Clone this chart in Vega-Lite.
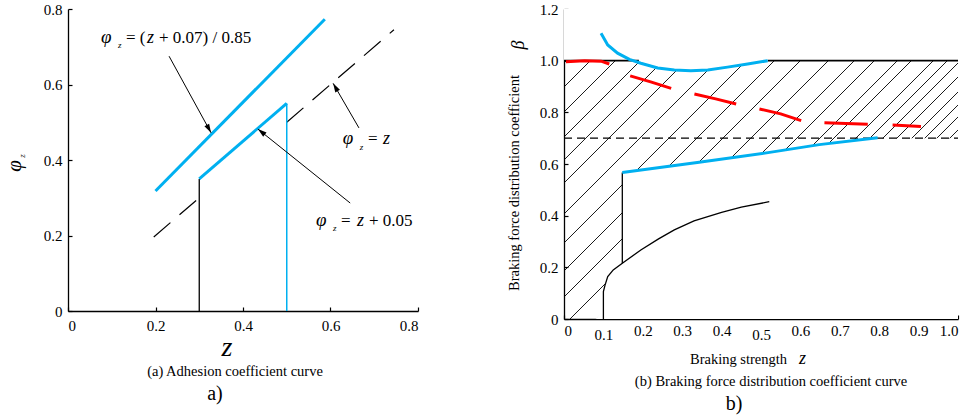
{
  "$schema": "https://vega.github.io/schema/vega-lite/v6.json",
  "background": "white",
  "padding": {"left": 4, "top": 2, "right": 2, "bottom": 2},
  "bounds": "flush",
  "spacing": 146,
  "config": {
    "view": {"stroke": null},
    "font": "Liberation Serif",
    "text": {"font": "Liberation Serif"},
    "style": {"guide-label": {"font": "Liberation Serif", "fontSize": 15, "fill": "black"}},
    "axis": {"grid": false, "domainColor": "black", "domainWidth": 1.3, "tickColor": "black", "tickWidth": 1.2, "tickSize": -4, "labelColor": "black", "labelFont": "Liberation Serif", "labelFontSize": 15, "labelOverlap": false, "zindex": 1}
  },
  "datasets": {
    "a_dash": [{"z": 0.196, "phi": 0.196, "seg": 1}, {"z": 0.295, "phi": 0.295, "seg": 1}, {"z": 0.5, "phi": 0.5, "seg": 2}, {"z": 0.745, "phi": 0.745, "seg": 2}],
    "a_blue": [{"z": 0.2, "phi": 0.318, "seg": "A"}, {"z": 0.587, "phi": 0.773, "seg": "A"}, {"z": 0.3, "phi": 0.35, "seg": "B"}, {"z": 0.5, "phi": 0.55, "seg": "B"}],
    "a_arrows": [{"id": "A", "z": 0.231, "phi": 0.675, "z2": 0.327, "phi2": 0.472}, {"id": "B", "z": 0.665, "phi": 0.485, "z2": 0.606, "phi2": 0.603}, {"id": "C", "z": 0.645, "phi": 0.286, "z2": 0.434, "phi2": 0.482}],
    "a_text": [
      {"z": 0.0754, "phi": 0.7099, "t": "φ", "kind": "sym"},
      {"z": 0.1143, "phi": 0.6967, "t": "z", "kind": "sub"},
      {"z": 0.1326, "phi": 0.7099, "t": "= (", "kind": "plain"},
      {"z": 0.1806, "phi": 0.7099, "t": "z", "kind": "var"},
      {"z": 0.208, "phi": 0.7099, "t": "+ 0.07) / 0.85", "kind": "plain"},
      {"z": 0.628, "phi": 0.4416, "t": "φ", "kind": "sym"},
      {"z": 0.667, "phi": 0.4278, "t": "z", "kind": "sub"},
      {"z": 0.6857, "phi": 0.4416, "t": "=", "kind": "plain"},
      {"z": 0.72, "phi": 0.4416, "t": "z", "kind": "var"},
      {"z": 0.5669, "phi": 0.2252, "t": "φ", "kind": "sym"},
      {"z": 0.6057, "phi": 0.2119, "t": "z", "kind": "sub"},
      {"z": 0.624, "phi": 0.2252, "t": "=", "kind": "plain"},
      {"z": 0.6606, "phi": 0.2252, "t": "z", "kind": "var"},
      {"z": 0.688, "phi": 0.2252, "t": "+ 0.05", "kind": "plain"},
      {"z": 0.3634, "phi": -0.1192, "t": "z", "kind": "xt"},
      {"z": 0.3817, "phi": -0.1722, "t": "(a) Adhesion coefficient curve", "kind": "cap"},
      {"z": 0.336, "phi": -0.2358, "t": "a)", "kind": "lab"},
      {"z": -0.1211, "phi": 0.3841, "t": "φ", "kind": "yt"},
      {"z": -0.1051, "phi": 0.4106, "t": "z", "kind": "ysub"}
    ],
    "a_vert": [{"z": 0.3, "lo": 0, "hi": 0.35, "line": "black"}, {"z": 0.5, "lo": 0, "hi": 0.55, "line": "blue"}],
    "b_hatch": [
      {"z": -0.5888, "z1": 0.198, "b": 0, "b1": 1.2}, {"z": -0.5254, "z1": 0.2614, "b": 0, "b1": 1.2}, {"z": -0.4619, "z1": 0.3249, "b": 0, "b1": 1.2}, {"z": -0.4036, "z1": 0.3832, "b": 0, "b1": 1.2},
      {"z": -0.3452, "z1": 0.4416, "b": 0, "b1": 1.2}, {"z": -0.2665, "z1": 0.5203, "b": 0, "b1": 1.2}, {"z": -0.1929, "z1": 0.5939, "b": 0, "b1": 1.2}, {"z": -0.1218, "z1": 0.665, "b": 0, "b1": 1.2},
      {"z": -0.0558, "z1": 0.731, "b": 0, "b1": 1.2}, {"z": 0.0152, "z1": 0.802, "b": 0, "b1": 1.2}, {"z": 0.0812, "z1": 0.868, "b": 0, "b1": 1.2}, {"z": 0.132, "z1": 0.9188, "b": 0, "b1": 1.2},
      {"z": 0.1904, "z1": 0.9772, "b": 0, "b1": 1.2}, {"z": 0.2259, "z1": 1.0127, "b": 0, "b1": 1.2}, {"z": 0.2817, "z1": 1.0685, "b": 0, "b1": 1.2}, {"z": 0.3173, "z1": 1.1041, "b": 0, "b1": 1.2},
      {"z": 0.3503, "z1": 1.1371, "b": 0, "b1": 1.2}, {"z": 0.3858, "z1": 1.1726, "b": 0, "b1": 1.2}, {"z": 0.4239, "z1": 1.2107, "b": 0, "b1": 1.2}, {"z": 0.4569, "z1": 1.2437, "b": 0, "b1": 1.2},
      {"z": 0.4873, "z1": 1.2741, "b": 0, "b1": 1.2}, {"z": 0.5203, "z1": 1.3071, "b": 0, "b1": 1.2}
    ],
    "b_mask_hi": [{"z": 0, "b": 1.0, "top": 1.2}, {"z": 0.185, "b": 1.0, "top": 1.2}, {"z": 0.195, "b": 0.99, "top": 1.2}, {"z": 0.238, "b": 0.972, "top": 1.2}, {"z": 0.28, "b": 0.964, "top": 1.2}, {"z": 0.322, "b": 0.961, "top": 1.2}, {"z": 0.365, "b": 0.964, "top": 1.2}, {"z": 0.415, "b": 0.975, "top": 1.2}, {"z": 0.466, "b": 0.987, "top": 1.2}, {"z": 0.517, "b": 1.0, "top": 1.2}, {"z": 1.0, "b": 1.0, "top": 1.2}],
    "b_mask_lo": [{"z": 0.08, "b": 0, "bot": 0}, {"z": 0.1, "b": 0.035, "bot": 0}, {"z": 0.1, "b": 0.106, "bot": 0}, {"z": 0.104, "b": 0.13, "bot": 0}, {"z": 0.111, "b": 0.164, "bot": 0}, {"z": 0.125, "b": 0.19, "bot": 0}, {"z": 0.148, "b": 0.216, "bot": 0}, {"z": 0.148, "b": 0.567, "bot": 0}, {"z": 0.343, "b": 0.607, "bot": 0}, {"z": 0.518, "b": 0.644, "bot": 0}, {"z": 0.648, "b": 0.675, "bot": 0}, {"z": 0.796, "b": 0.702, "bot": 0}, {"z": 0.8, "b": 0.7, "bot": 0}, {"z": 1.0, "b": 0.7, "bot": 0}],
    "b_top": [{"z": 0, "b": 1.0, "seg": 1}, {"z": 0.19, "b": 1.0, "seg": 1}, {"z": 0.517, "b": 1.0, "seg": 2}, {"z": 1.0, "b": 1.0, "seg": 2}],
    "b_black": [
      {"z": 0.1, "b": 0, "seg": "c"}, {"z": 0.1, "b": 0.106, "seg": "c"}, {"z": 0.104, "b": 0.13, "seg": "c"}, {"z": 0.111, "b": 0.164, "seg": "c"}, {"z": 0.125, "b": 0.19, "seg": "c"}, {"z": 0.148, "b": 0.216, "seg": "c"}, {"z": 0.195, "b": 0.267, "seg": "c"}, {"z": 0.24, "b": 0.31, "seg": "c"}, {"z": 0.28, "b": 0.345, "seg": "c"}, {"z": 0.33, "b": 0.38, "seg": "c"}, {"z": 0.4, "b": 0.413, "seg": "c"}, {"z": 0.45, "b": 0.433, "seg": "c"}, {"z": 0.521, "b": 0.454, "seg": "c"},
      {"z": 0.148, "b": 0.216, "seg": "v"}, {"z": 0.148, "b": 0.567, "seg": "v"}
    ],
    "b_blue": [
      {"z": 0.094, "b": 1.106, "seg": "u"}, {"z": 0.111, "b": 1.061, "seg": "u"}, {"z": 0.136, "b": 1.029, "seg": "u"}, {"z": 0.166, "b": 1.005, "seg": "u"}, {"z": 0.195, "b": 0.99, "seg": "u"}, {"z": 0.238, "b": 0.972, "seg": "u"}, {"z": 0.28, "b": 0.964, "seg": "u"}, {"z": 0.322, "b": 0.961, "seg": "u"}, {"z": 0.365, "b": 0.964, "seg": "u"}, {"z": 0.415, "b": 0.975, "seg": "u"}, {"z": 0.466, "b": 0.987, "seg": "u"}, {"z": 0.517, "b": 1.0, "seg": "u"},
      {"z": 0.148, "b": 0.567, "seg": "l"}, {"z": 0.343, "b": 0.607, "seg": "l"}, {"z": 0.518, "b": 0.644, "seg": "l"}, {"z": 0.648, "b": 0.675, "seg": "l"}, {"z": 0.796, "b": 0.702, "seg": "l"}
    ],
    "b_red": [
      {"z": 0.005, "b": 0.996, "seg": 1}, {"z": 0.052, "b": 1.0, "seg": 1}, {"z": 0.094, "b": 0.998, "seg": 1}, {"z": 0.115, "b": 0.987, "seg": 1},
      {"z": 0.168, "b": 0.941, "seg": 2}, {"z": 0.22, "b": 0.918, "seg": 2}, {"z": 0.272, "b": 0.893, "seg": 2},
      {"z": 0.331, "b": 0.871, "seg": 3}, {"z": 0.385, "b": 0.852, "seg": 3}, {"z": 0.437, "b": 0.832, "seg": 3},
      {"z": 0.496, "b": 0.813, "seg": 4}, {"z": 0.55, "b": 0.794, "seg": 4}, {"z": 0.602, "b": 0.768, "seg": 4},
      {"z": 0.661, "b": 0.76, "seg": 5}, {"z": 0.716, "b": 0.757, "seg": 5}, {"z": 0.771, "b": 0.754, "seg": 5},
      {"z": 0.834, "b": 0.751, "seg": 6}, {"z": 0.87, "b": 0.748, "seg": 6}, {"z": 0.906, "b": 0.745, "seg": 6}
    ],
    "b_h": [{"z": 0, "b": 0.7}, {"z": 1.0, "b": 0.7}],
    "b_text": [
      {"z": -0.1244, "b": 0.5265, "t": "Braking force distribution coefficient", "kind": "yt"},
      {"z": -0.1142, "b": 1.061, "t": "β", "kind": "ysym"},
      {"z": 0.3198, "b": -0.1742, "t": "Braking strength", "kind": "xt"},
      {"z": 0.5964, "b": -0.1742, "t": "z", "kind": "xvar"},
      {"z": 0.5254, "b": -0.2594, "t": "(b) Braking force distribution coefficient curve", "kind": "cap"},
      {"z": 0.4315, "b": -0.3523, "t": "b)", "kind": "lab"}
    ]
  },
  "hconcat": [
    {
      "width": 350,
      "height": 302,
      "layer": [
        {
          "data": {"name": "a_dash"},
          "mark": {"type": "line", "color": "black", "strokeWidth": 1.2, "strokeDash": [22, 12]},
          "encoding": {
            "x": {"field": "z", "type": "quantitative", "scale": {"domain": [0, 0.8]},
              "axis": {"title": null, "values": [0, 0.2, 0.4, 0.6, 0.8], "labelPadding": 11, "labelFont": "Liberation Serif", "labelExpr": "datum.value == 0 ? '0' : format(datum.value, '.1f')"}},
            "y": {"field": "phi", "type": "quantitative", "scale": {"domain": [0, 0.8]},
              "axis": {"title": null, "values": [0, 0.2, 0.4, 0.6, 0.8], "labelPadding": 10, "labelFont": "Liberation Serif", "labelExpr": "datum.value == 0 ? '0' : format(datum.value, '.1f')"}},
            "detail": {"field": "seg", "type": "nominal"}
          }
        },
        {
          "data": {"name": "a_vert"},
          "transform": [{"filter": "datum.line == 'black'"}],
          "mark": {"type": "rule", "color": "black", "strokeWidth": 1.3},
          "encoding": {"x": {"field": "z", "type": "quantitative"}, "y": {"field": "lo", "type": "quantitative"}, "y2": {"field": "hi"}}
        },
        {
          "data": {"name": "a_vert"},
          "transform": [{"filter": "datum.line == 'blue'"}],
          "mark": {"type": "rule", "color": "#00B0F0", "strokeWidth": 1.5},
          "encoding": {"x": {"field": "z", "type": "quantitative"}, "y": {"field": "lo", "type": "quantitative"}, "y2": {"field": "hi"}}
        },
        {
          "data": {"name": "a_blue"},
          "mark": {"type": "line", "color": "#00B0F0", "strokeWidth": 3},
          "encoding": {"x": {"field": "z", "type": "quantitative"}, "y": {"field": "phi", "type": "quantitative"}, "detail": {"field": "seg", "type": "nominal"}}
        },
        {
          "data": {"name": "a_arrows"},
          "mark": {"type": "rule", "color": "black", "strokeWidth": 1},
          "encoding": {"x": {"field": "z", "type": "quantitative"}, "y": {"field": "phi", "type": "quantitative"}, "x2": {"field": "z2"}, "y2": {"field": "phi2"}}
        },
        {
          "data": {"name": "a_arrows"},
          "transform": [{"filter": "datum.id == 'A'"}],
          "mark": {"type": "point", "shape": "M0,0L0.6,2L-0.6,2Z", "filled": true, "color": "black", "opacity": 1, "size": 80, "angle": 151.3},
          "encoding": {"x": {"field": "z2", "type": "quantitative"}, "y": {"field": "phi2", "type": "quantitative"}}
        },
        {
          "data": {"name": "a_arrows"},
          "transform": [{"filter": "datum.id == 'B'"}],
          "mark": {"type": "point", "shape": "M0,0L0.6,2L-0.6,2Z", "filled": true, "color": "black", "opacity": 1, "size": 80, "angle": 329.9},
          "encoding": {"x": {"field": "z2", "type": "quantitative"}, "y": {"field": "phi2", "type": "quantitative"}}
        },
        {
          "data": {"name": "a_arrows"},
          "transform": [{"filter": "datum.id == 'C'"}],
          "mark": {"type": "point", "shape": "M0,0L0.6,2L-0.6,2Z", "filled": true, "color": "black", "opacity": 1, "size": 80, "angle": 308.7},
          "encoding": {"x": {"field": "z2", "type": "quantitative"}, "y": {"field": "phi2", "type": "quantitative"}}
        },
        {
          "data": {"name": "a_text"},
          "transform": [{"filter": "datum.kind == 'sym'"}],
          "mark": {"type": "text", "font": "Liberation Serif", "align": "left", "baseline": "alphabetic", "fontSize": 19, "fontStyle": "italic", "color": "black"},
          "encoding": {"x": {"field": "z", "type": "quantitative"}, "y": {"field": "phi", "type": "quantitative"}, "text": {"field": "t", "type": "nominal"}}
        },
        {
          "data": {"name": "a_text"},
          "transform": [{"filter": "datum.kind == 'sub'"}],
          "mark": {"type": "text", "font": "Liberation Serif", "align": "left", "baseline": "alphabetic", "fontSize": 9, "fontStyle": "italic", "color": "black"},
          "encoding": {"x": {"field": "z", "type": "quantitative"}, "y": {"field": "phi", "type": "quantitative"}, "text": {"field": "t", "type": "nominal"}}
        },
        {
          "data": {"name": "a_text"},
          "transform": [{"filter": "datum.kind == 'var'"}],
          "mark": {"type": "text", "font": "Liberation Serif", "align": "left", "baseline": "alphabetic", "fontSize": 18, "fontStyle": "italic", "color": "black"},
          "encoding": {"x": {"field": "z", "type": "quantitative"}, "y": {"field": "phi", "type": "quantitative"}, "text": {"field": "t", "type": "nominal"}}
        },
        {
          "data": {"name": "a_text"},
          "transform": [{"filter": "datum.kind == 'plain'"}],
          "mark": {"type": "text", "font": "Liberation Serif", "align": "left", "baseline": "alphabetic", "fontSize": 17, "color": "black"},
          "encoding": {"x": {"field": "z", "type": "quantitative"}, "y": {"field": "phi", "type": "quantitative"}, "text": {"field": "t", "type": "nominal"}}
        },
        {
          "data": {"name": "a_text"},
          "transform": [{"filter": "datum.kind == 'xt'"}],
          "mark": {"type": "text", "font": "Liberation Serif", "align": "center", "baseline": "alphabetic", "fontSize": 28, "fontStyle": "italic", "color": "black"},
          "encoding": {"x": {"field": "z", "type": "quantitative"}, "y": {"field": "phi", "type": "quantitative"}, "text": {"field": "t", "type": "nominal"}}
        },
        {
          "data": {"name": "a_text"},
          "transform": [{"filter": "datum.kind == 'cap'"}],
          "mark": {"type": "text", "font": "Liberation Serif", "align": "center", "baseline": "alphabetic", "fontSize": 14.5, "color": "black"},
          "encoding": {"x": {"field": "z", "type": "quantitative"}, "y": {"field": "phi", "type": "quantitative"}, "text": {"field": "t", "type": "nominal"}}
        },
        {
          "data": {"name": "a_text"},
          "transform": [{"filter": "datum.kind == 'lab'"}],
          "mark": {"type": "text", "font": "Liberation Serif", "align": "center", "baseline": "alphabetic", "fontSize": 20, "color": "black"},
          "encoding": {"x": {"field": "z", "type": "quantitative"}, "y": {"field": "phi", "type": "quantitative"}, "text": {"field": "t", "type": "nominal"}}
        },
        {
          "data": {"name": "a_text"},
          "transform": [{"filter": "datum.kind == 'yt'"}],
          "mark": {"type": "text", "font": "Liberation Serif", "align": "center", "baseline": "middle", "fontSize": 21, "fontStyle": "italic", "angle": 270, "color": "black"},
          "encoding": {"x": {"field": "z", "type": "quantitative"}, "y": {"field": "phi", "type": "quantitative"}, "text": {"field": "t", "type": "nominal"}}
        },
        {
          "data": {"name": "a_text"},
          "transform": [{"filter": "datum.kind == 'ysub'"}],
          "mark": {"type": "text", "font": "Liberation Serif", "align": "center", "baseline": "middle", "fontSize": 9, "fontStyle": "italic", "angle": 270, "color": "black"},
          "encoding": {"x": {"field": "z", "type": "quantitative"}, "y": {"field": "phi", "type": "quantitative"}, "text": {"field": "t", "type": "nominal"}}
        }
      ]
    },
    {
      "width": 394,
      "height": 310,
      "encoding": {
        "x": {"field": "z", "type": "quantitative", "scale": {"domain": [0, 1]},
          "axis": {"title": null, "values": [0, 0.1, 0.2, 0.3, 0.4, 0.5, 0.6, 0.7, 0.8, 0.9, 1.0], "labelFont": "Liberation Serif", "labelOverlap": false,
            "labelExpr": "datum.value == 0 ? '0' : format(datum.value, '.1f')",
            "labelPadding": {"condition": {"test": "datum.value == 0.1 || datum.value == 0.5", "value": 12}, "value": 8}}},
        "y": {"field": "b", "type": "quantitative", "scale": {"domain": [0, 1.2]},
          "axis": {"title": null, "values": [0, 0.2, 0.4, 0.6, 0.8, 1.0, 1.2], "labelFont": "Liberation Serif", "labelOverlap": false, "labelExpr": "datum.value == 0 ? '0' : format(datum.value, '.1f')", "labelPadding": 10}}
      },
      "layer": [
        {
          "data": {"name": "b_hatch"},
          "mark": {"type": "rule", "color": "black", "strokeWidth": 0.9, "clip": true},
          "encoding": {"x2": {"field": "z1"}, "y2": {"field": "b1"}}
        },
        {
          "data": {"name": "b_mask_hi"},
          "mark": {"type": "area", "color": "white", "opacity": 1, "clip": true},
          "encoding": {"y2": {"field": "top"}}
        },
        {
          "data": {"name": "b_mask_lo"},
          "mark": {"type": "area", "color": "white", "opacity": 1, "clip": true},
          "encoding": {"y2": {"field": "bot"}}
        },
        {
          "data": {"name": "b_h"},
          "mark": {"type": "line", "color": "black", "strokeWidth": 1.3, "strokeDash": [8, 5]},
          "encoding": {}
        },
        {
          "data": {"name": "b_top"},
          "mark": {"type": "line", "color": "black", "strokeWidth": 1.8},
          "encoding": {"detail": {"field": "seg", "type": "nominal"}}
        },
        {
          "data": {"name": "b_black"},
          "mark": {"type": "line", "color": "black", "strokeWidth": 1.3},
          "encoding": {"detail": {"field": "seg", "type": "nominal"}}
        },
        {
          "data": {"name": "b_blue"},
          "mark": {"type": "line", "color": "#00B0F0", "strokeWidth": 3},
          "encoding": {"detail": {"field": "seg", "type": "nominal"}}
        },
        {
          "data": {"name": "b_red"},
          "mark": {"type": "line", "color": "#FF0000", "strokeWidth": 3},
          "encoding": {"detail": {"field": "seg", "type": "nominal"}}
        },
        {
          "data": {"name": "b_text"},
          "transform": [{"filter": "datum.kind == 'yt'"}],
          "mark": {"type": "text", "font": "Liberation Serif", "align": "center", "baseline": "middle", "fontSize": 14.5, "angle": 270, "color": "black"},
          "encoding": {"text": {"field": "t", "type": "nominal"}}
        },
        {
          "data": {"name": "b_text"},
          "transform": [{"filter": "datum.kind == 'ysym'"}],
          "mark": {"type": "text", "font": "Liberation Serif", "align": "center", "baseline": "middle", "fontSize": 18, "fontStyle": "italic", "angle": 270, "color": "black"},
          "encoding": {"text": {"field": "t", "type": "nominal"}}
        },
        {
          "data": {"name": "b_text"},
          "transform": [{"filter": "datum.kind == 'xt'"}],
          "mark": {"type": "text", "font": "Liberation Serif", "align": "left", "baseline": "alphabetic", "fontSize": 14.5, "color": "black"},
          "encoding": {"text": {"field": "t", "type": "nominal"}}
        },
        {
          "data": {"name": "b_text"},
          "transform": [{"filter": "datum.kind == 'xvar'"}],
          "mark": {"type": "text", "font": "Liberation Serif", "align": "left", "baseline": "alphabetic", "fontSize": 18, "fontStyle": "italic", "color": "black"},
          "encoding": {"text": {"field": "t", "type": "nominal"}}
        },
        {
          "data": {"name": "b_text"},
          "transform": [{"filter": "datum.kind == 'cap'"}],
          "mark": {"type": "text", "font": "Liberation Serif", "align": "center", "baseline": "alphabetic", "fontSize": 14.5, "color": "black"},
          "encoding": {"text": {"field": "t", "type": "nominal"}}
        },
        {
          "data": {"name": "b_text"},
          "transform": [{"filter": "datum.kind == 'lab'"}],
          "mark": {"type": "text", "font": "Liberation Serif", "align": "center", "baseline": "alphabetic", "fontSize": 20, "color": "black"},
          "encoding": {"text": {"field": "t", "type": "nominal"}}
        }
      ]
    }
  ]
}
